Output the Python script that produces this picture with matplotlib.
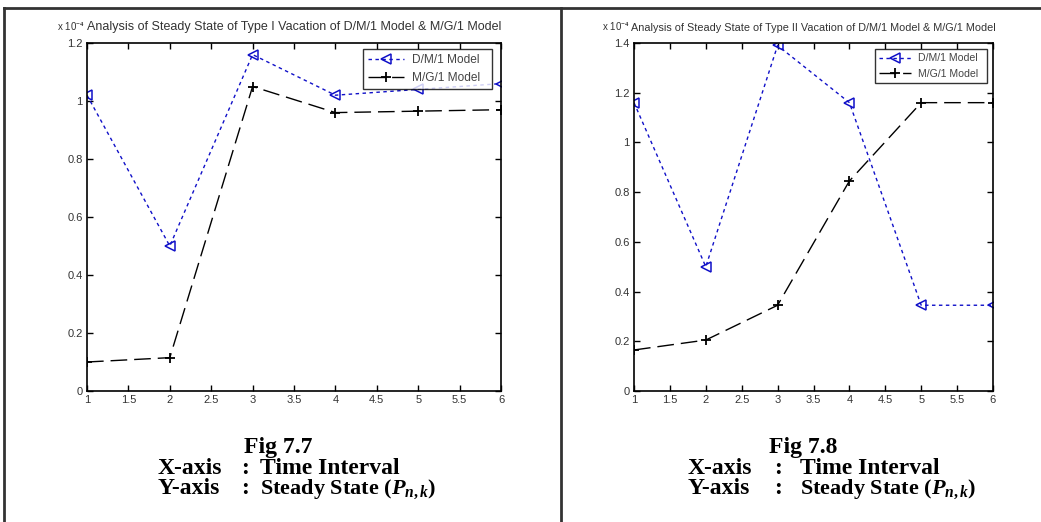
import matplotlib.pyplot as plt
from matplotlib.lines import Line2D

plt.rcParams['font.family'] = 'Liberation Sans'
plt.rcParams['mathtext.fontset'] = 'custom'
plt.rcParams['mathtext.it'] = 'Liberation Serif:italic:bold'
plt.rcParams['mathtext.rm'] = 'Liberation Serif:bold'

# valores (unidades de 1e-4)
tiempo = [1, 2, 3, 4, 5, 6]
dm1_tipo1 = [1.02, 0.50, 1.16, 1.02, 1.04, 1.06]
mg1_tipo1 = [0.10, 0.115, 1.05, 0.96, 0.965, 0.97]
dm1_tipo2 = [1.16, 0.50, 1.39, 1.16, 0.345, 0.345]
mg1_tipo2 = [0.165, 0.205, 0.345, 0.845, 1.16, 1.16]

titulos = ['Analysis of Steady State of Type I Vacation of D/M/1 Model & M/G/1 Model',
           'Analysis of Steady State of Type II Vacation of D/M/1 Model & M/G/1 Model']
figuras = ['Fig 7.7', 'Fig 7.8']
ymax = [1.2, 1.4]

W, H = 1041, 522
fig = plt.figure(figsize=(W / 100, H / 100), dpi=100)


def caja(x0, x1, y0, y1):
    return [x0 / W, 1 - y1 / H, (x1 - x0) / W, (y1 - y0) / H]


limites = [(87, 501), (634, 993)]
ejes = [fig.add_axes(caja(x0, x1, 43, 391)) for x0, x1 in limites]
series = [(dm1_tipo1, mg1_tipo1), (dm1_tipo2, mg1_tipo2)]
legend_pos = [(363, 492), (875, 987)]
tam_titulo = [9.0, 7.8]
tam_leyenda = [8.6, 7.6]
exp_x = [85, 630]

for i, ax in enumerate(ejes):
    dm, mg = series[i]
    ax.plot(tiempo, dm, color='#1010c8', linestyle=(0, (2.5, 2.5)), linewidth=1.0,
            marker='<', markersize=7, markerfacecolor='none', markeredgewidth=1.1,
            label='D/M/1 Model')
    ax.plot(tiempo, mg, color='black', linestyle=(0, (12, 5)), linewidth=1.0,
            marker='+', markersize=7, markeredgewidth=1.3, label='M/G/1 Model')
    ax.set_xlim(1, 6)
    ax.set_ylim(0, ymax[i])
    ax.set_xticks([1, 1.5, 2, 2.5, 3, 3.5, 4, 4.5, 5, 5.5, 6])
    ax.set_xticklabels(['1', '1.5', '2', '2.5', '3', '3.5', '4', '4.5', '5', '5.5', '6'])
    yt = [round(0.2 * k, 1) for k in range(int(round(ymax[i] / 0.2)) + 1)]
    ax.set_yticks(yt)
    ax.set_yticklabels(['0' if v == 0 else ('1' if v == 1 else str(v)) for v in yt])
    ax.tick_params(direction='in', top=True, right=True, length=4, width=1,
                   labelsize=8, colors='black', labelcolor='#333333', pad=3)
    for s in ax.spines.values():
        s.set_linewidth(1.2)
    ax.text(0.5, 1.028, titulos[i], transform=ax.transAxes, ha='center', va='bottom',
            fontsize=tam_titulo[i], color='#333333')
    fig.text(exp_x[i] / W, 1 - 33 / H, r'x 10$^{-4}$', ha='right', va='bottom',
             fontsize=7, color='#333333', family='Liberation Sans')
    lx0, lx1 = legend_pos[i]
    ax0, ax1 = limites[i]
    bb = ((lx0 - ax0) / (ax1 - ax0), 1 - (49 - 43) / 348, (lx1 - lx0) / (ax1 - ax0), 0)
    leg = ax.legend(loc='upper left', bbox_to_anchor=bb, mode='expand',
                    fontsize=tam_leyenda[i], frameon=True, fancybox=False,
                    edgecolor='black', handlelength=3.0, borderaxespad=0,
                    borderpad=0.4, labelspacing=0.55, handletextpad=0.7)
    leg.get_frame().set_linewidth(1.0)
    for t in leg.get_texts():
        t.set_color('#444444')

# textos al pie de cada grafico
pie = dict(fontsize=17, family='Liberation Serif', weight='bold', va='center')
centros = [278, 803]
inicio_eje = [158, 688]
dos_puntos = [245, 778]
inicio_texto = [260, 800]
for i in range(2):
    fig.text(centros[i] / W, 1 - 447 / H, figuras[i], ha='center', **pie)
    for fila, (eje, texto, tam) in enumerate([('X-axis', 'Time Interval', 17),
                                              ('Y-axis', r'Steady State ($P_{n,k}$)', 16)]):
        y = 1 - (468 + 21 * fila) / H
        fig.text(inicio_eje[i] / W, y, eje, ha='left', **pie)
        fig.text(dos_puntos[i] / W, y, ':', ha='center', **pie)
        fig.text(inicio_texto[i] / W, y, texto, ha='left',
                 **{**pie, 'fontsize': tam})

# marco exterior
borde = dict(color='#333333', linewidth=2)
fig.add_artist(Line2D([4 / W, 1], [1 - 8 / H, 1 - 8 / H], **borde))
fig.add_artist(Line2D([4 / W, 4 / W], [0, 1 - 8 / H], **borde))
fig.add_artist(Line2D([561 / W, 561 / W], [0, 1 - 8 / H], **borde))

fig.savefig('out.png', dpi=100)
